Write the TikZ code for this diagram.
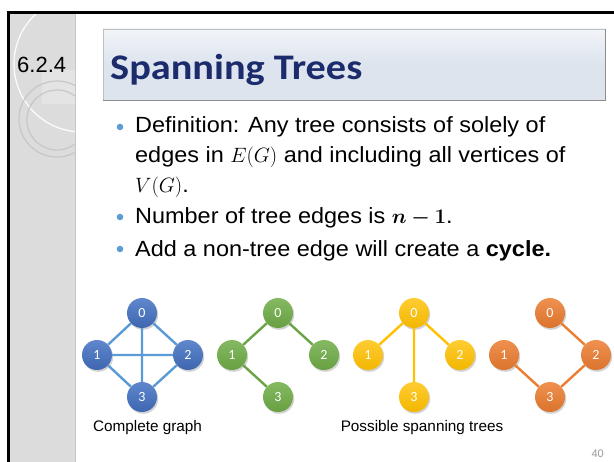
\documentclass[tikz,border=0pt]{standalone}
\usepackage{fontspec}
\usepackage{amsmath}
\usepackage{bm}
\setmainfont{Liberation Sans}
\newfontfamily\bodyfont[FakeStretch=1.066]{Liberation Sans}
\newfontfamily\titlefont[FakeStretch=1.12]{Carlito}
\newfontfamily\nodefont{Carlito}
\usetikzlibrary{shadows}
\definecolor{stripegray}{HTML}{DCDCDC}
\definecolor{titlenavy}{HTML}{1B2B6B}
\definecolor{bulletblue}{HTML}{5B9BD5}
\definecolor{gblue}{HTML}{4472C4}
\definecolor{eblue}{HTML}{5B9BD5}
\definecolor{ggreen}{HTML}{70AD47}
\definecolor{gyellow}{HTML}{FFC000}
\definecolor{gorange}{HTML}{ED7D31}
\definecolor{boxfill}{HTML}{DDE4EE}
\tikzset{
  vtx/.style={circle, minimum size=30pt, inner sep=0pt, text=white,
    font=\nodefont\fontsize{14}{14}\selectfont,
    drop shadow={opacity=0.35, shadow xshift=1.2pt, shadow yshift=-1.8pt}},
  vblue/.style={vtx, top color=gblue!85!white, bottom color=gblue!90!black},
  vgreen/.style={vtx, top color=ggreen!85!white, bottom color=ggreen!92!black},
  vyellow/.style={vtx, top color=gyellow!80!white, bottom color=gyellow!95!black},
  vorange/.style={vtx, top color=gorange!85!white, bottom color=gorange!92!black},
  edg/.style={line width=2.4pt},
  txt/.style={anchor=base west, inner sep=0pt, font=\bodyfont\fontsize{22}{22}\selectfont},
  bdot/.style={circle, fill=bulletblue, minimum size=6.5pt, inner sep=0pt},
  captxt/.style={anchor=base, inner sep=0pt, font=\fontsize{15.3}{15.3}\selectfont},
}
\begin{document}
\begin{tikzpicture}[x=1pt,y=-1pt]
\useasboundingbox (0,0) rectangle (614,462);
\fill[white] (0,0) rectangle (614,462);
% left stripe
\fill[stripegray] (10,14) rectangle (75,462);
\draw[black!22, line width=0.8pt] (75,14) -- (75,462);
\begin{scope}
  \clip (10,14) rectangle (75,462);
  \fill[white, opacity=0.25] (42,70) rectangle (80,104);
  \draw[white, line width=1.3pt, opacity=0.9] (82,64) circle[radius=68];
  \draw[black!22, line width=1.2pt] (57,119) circle[radius=38];
  \draw[black!22, line width=1.2pt] (57,120) circle[radius=30];
\end{scope}
% frame
\draw[black, line width=3pt] (8.7,462) -- (8.7,12.5) -- (614,12.5);
% section number
\node[anchor=base west, inner sep=0pt, font=\fontsize{22}{22}\selectfont] (sec) at (17,72.5) {6.2.4};
% title box
\node[draw=black!25, line width=0.8pt, minimum width=502pt, minimum height=71pt,
      top color=boxfill!40!white, bottom color=boxfill, middle color=boxfill,
      drop shadow={opacity=0.25, shadow xshift=1pt, shadow yshift=-1pt}] (tbox) at (354,64.5) {};
\draw[black!45, line width=1.6pt] (tbox.south west) -- (tbox.south east) -- (tbox.north east);
\node[anchor=base west, inner sep=0pt, text=titlenavy,
      font=\titlefont\bfseries\fontsize{36}{36}\selectfont] (title) at (110,80) {Spanning Trees};
% bullets
\node[bdot] (d1) at (120,127) {};
\node[txt] (l1) at (135,133) {Definition: Any tree consists of solely of};
\node[txt] (l2) at (135,163) {edges in $E(G)$ and including all vertices of};
\node[txt] (l3) at (135,193) {$V(G)$.};
\node[bdot] (d2) at (120,217) {};
\node[txt] (l4) at (135,224) {Number of tree edges is $\bm{n-1}$.};
\node[bdot] (d3) at (120,249) {};
\node[txt] (l5) at (135,257) {Add a non-tree edge will create a \textbf{cycle.}};
% graph 1: complete graph
\node[vblue] (a0) at (142,313) {0};
\node[vblue] (a1) at (97,355) {1};
\node[vblue] (a2) at (188,355) {2};
\node[vblue] (a3) at (142,397) {3};
\draw[edg, eblue] (a0) -- (a1) (a0) -- (a2) (a1) -- (a3) (a2) -- (a3) (a1) -- (a2) (a0) -- (a3);
% graph 2
\node[vgreen] (b0) at (278,313) {0};
\node[vgreen] (b1) at (232,355) {1};
\node[vgreen] (b2) at (324,355) {2};
\node[vgreen] (b3) at (278,397) {3};
\draw[edg, ggreen!95!black] (b0) -- (b1) (b0) -- (b2) (b1) -- (b3);
% graph 3
\node[vyellow] (c0) at (414,313) {0};
\node[vyellow] (c1) at (368,355) {1};
\node[vyellow] (c2) at (460,355) {2};
\node[vyellow] (c3) at (414,397) {3};
\draw[edg, gyellow] (c0) -- (c1) (c0) -- (c2) (c0) -- (c3);
% graph 4
\node[vorange] (e0) at (550,313) {0};
\node[vorange] (e1) at (504,355) {1};
\node[vorange] (e2) at (596,355) {2};
\node[vorange] (e3) at (550,397) {3};
\draw[edg, gorange] (e0) -- (e2) (e1) -- (e3) (e2) -- (e3);
% captions
\node[captxt] (cap1) at (147.5,432) {Complete graph};
\node[captxt] (cap2) at (422,432) {Possible spanning trees};
\node[anchor=base east, inner sep=0pt, text=black!40, font=\fontsize{11}{11}\selectfont] (pg) at (604,458) {40};
\end{tikzpicture}
\end{document}
